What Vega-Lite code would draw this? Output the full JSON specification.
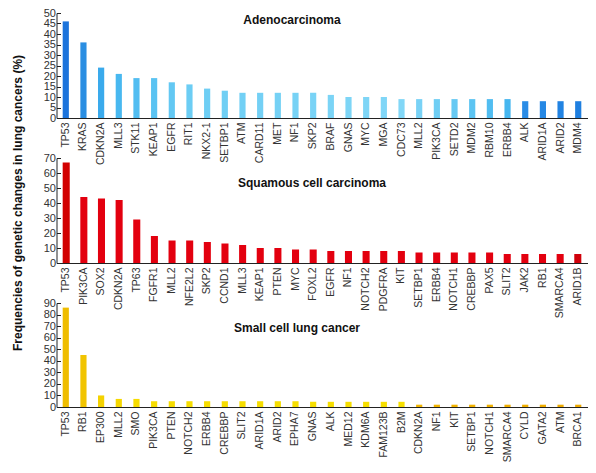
{
  "$schema": "https://vega.github.io/schema/vega-lite/v6.json",
  "padding": {"left": 11.5, "top": 7, "right": 6, "bottom": 6},
  "background": "white",
  "datasets": {
    "genes": [
      {"type": "Adenocarcinoma", "rank": 1, "gene": "TP53", "value": 46},
      {"type": "Adenocarcinoma", "rank": 2, "gene": "KRAS", "value": 36},
      {"type": "Adenocarcinoma", "rank": 3, "gene": "CDKN2A", "value": 24},
      {"type": "Adenocarcinoma", "rank": 4, "gene": "MLL3", "value": 21},
      {"type": "Adenocarcinoma", "rank": 5, "gene": "STK11", "value": 19},
      {"type": "Adenocarcinoma", "rank": 6, "gene": "KEAP1", "value": 19},
      {"type": "Adenocarcinoma", "rank": 7, "gene": "EGFR", "value": 17},
      {"type": "Adenocarcinoma", "rank": 8, "gene": "RIT1", "value": 16},
      {"type": "Adenocarcinoma", "rank": 9, "gene": "NKX2-1", "value": 14},
      {"type": "Adenocarcinoma", "rank": 10, "gene": "SETBP1", "value": 13},
      {"type": "Adenocarcinoma", "rank": 11, "gene": "ATM", "value": 12},
      {"type": "Adenocarcinoma", "rank": 12, "gene": "CARD11", "value": 12},
      {"type": "Adenocarcinoma", "rank": 13, "gene": "MET", "value": 12},
      {"type": "Adenocarcinoma", "rank": 14, "gene": "NF1", "value": 12},
      {"type": "Adenocarcinoma", "rank": 15, "gene": "SKP2", "value": 12},
      {"type": "Adenocarcinoma", "rank": 16, "gene": "BRAF", "value": 11},
      {"type": "Adenocarcinoma", "rank": 17, "gene": "GNAS", "value": 10},
      {"type": "Adenocarcinoma", "rank": 18, "gene": "MYC", "value": 10},
      {"type": "Adenocarcinoma", "rank": 19, "gene": "MGA", "value": 10},
      {"type": "Adenocarcinoma", "rank": 20, "gene": "CDC73", "value": 9},
      {"type": "Adenocarcinoma", "rank": 21, "gene": "MLL2", "value": 9},
      {"type": "Adenocarcinoma", "rank": 22, "gene": "PIK3CA", "value": 9},
      {"type": "Adenocarcinoma", "rank": 23, "gene": "SETD2", "value": 9},
      {"type": "Adenocarcinoma", "rank": 24, "gene": "MDM2", "value": 9},
      {"type": "Adenocarcinoma", "rank": 25, "gene": "RBM10", "value": 9},
      {"type": "Adenocarcinoma", "rank": 26, "gene": "ERBB4", "value": 9},
      {"type": "Adenocarcinoma", "rank": 27, "gene": "ALK", "value": 8},
      {"type": "Adenocarcinoma", "rank": 28, "gene": "ARID1A", "value": 8},
      {"type": "Adenocarcinoma", "rank": 29, "gene": "ARID2", "value": 8},
      {"type": "Adenocarcinoma", "rank": 30, "gene": "MDM4", "value": 8},
      {"type": "Squamous", "rank": 1, "gene": "TP53", "value": 67},
      {"type": "Squamous", "rank": 2, "gene": "PIK3CA", "value": 44},
      {"type": "Squamous", "rank": 3, "gene": "SOX2", "value": 43},
      {"type": "Squamous", "rank": 4, "gene": "CDKN2A", "value": 42},
      {"type": "Squamous", "rank": 5, "gene": "TP63", "value": 29},
      {"type": "Squamous", "rank": 6, "gene": "FGFR1", "value": 18},
      {"type": "Squamous", "rank": 7, "gene": "MLL2", "value": 15},
      {"type": "Squamous", "rank": 8, "gene": "NFE2L2", "value": 15},
      {"type": "Squamous", "rank": 9, "gene": "SKP2", "value": 14},
      {"type": "Squamous", "rank": 10, "gene": "CCND1", "value": 13},
      {"type": "Squamous", "rank": 11, "gene": "MLL3", "value": 12},
      {"type": "Squamous", "rank": 12, "gene": "KEAP1", "value": 10},
      {"type": "Squamous", "rank": 13, "gene": "PTEN", "value": 10},
      {"type": "Squamous", "rank": 14, "gene": "MYC", "value": 9},
      {"type": "Squamous", "rank": 15, "gene": "FOXL2", "value": 9},
      {"type": "Squamous", "rank": 16, "gene": "EGFR", "value": 8},
      {"type": "Squamous", "rank": 17, "gene": "NF1", "value": 8},
      {"type": "Squamous", "rank": 18, "gene": "NOTCH2", "value": 8},
      {"type": "Squamous", "rank": 19, "gene": "PDGFRA", "value": 8},
      {"type": "Squamous", "rank": 20, "gene": "KIT", "value": 8},
      {"type": "Squamous", "rank": 21, "gene": "SETBP1", "value": 7},
      {"type": "Squamous", "rank": 22, "gene": "ERBB4", "value": 7},
      {"type": "Squamous", "rank": 23, "gene": "NOTCH1", "value": 7},
      {"type": "Squamous", "rank": 24, "gene": "CREBBP", "value": 7},
      {"type": "Squamous", "rank": 25, "gene": "PAX5", "value": 7},
      {"type": "Squamous", "rank": 26, "gene": "SLIT2", "value": 6},
      {"type": "Squamous", "rank": 27, "gene": "JAK2", "value": 6},
      {"type": "Squamous", "rank": 28, "gene": "RB1", "value": 6},
      {"type": "Squamous", "rank": 29, "gene": "SMARCA4", "value": 6},
      {"type": "Squamous", "rank": 30, "gene": "ARID1B", "value": 6},
      {"type": "Small cell", "rank": 1, "gene": "TP53", "value": 86},
      {"type": "Small cell", "rank": 2, "gene": "RB1", "value": 45},
      {"type": "Small cell", "rank": 3, "gene": "EP300", "value": 10},
      {"type": "Small cell", "rank": 4, "gene": "MLL2", "value": 7},
      {"type": "Small cell", "rank": 5, "gene": "SMO", "value": 7},
      {"type": "Small cell", "rank": 6, "gene": "PIK3CA", "value": 5},
      {"type": "Small cell", "rank": 7, "gene": "PTEN", "value": 5},
      {"type": "Small cell", "rank": 8, "gene": "NOTCH2", "value": 5},
      {"type": "Small cell", "rank": 9, "gene": "ERBB4", "value": 5},
      {"type": "Small cell", "rank": 10, "gene": "CREBBP", "value": 5},
      {"type": "Small cell", "rank": 11, "gene": "SLIT2", "value": 5},
      {"type": "Small cell", "rank": 12, "gene": "ARID1A", "value": 5},
      {"type": "Small cell", "rank": 13, "gene": "ARID2", "value": 5},
      {"type": "Small cell", "rank": 14, "gene": "EPHA7", "value": 5},
      {"type": "Small cell", "rank": 15, "gene": "GNAS", "value": 4.5},
      {"type": "Small cell", "rank": 16, "gene": "ALK", "value": 4.5},
      {"type": "Small cell", "rank": 17, "gene": "MED12", "value": 4.5},
      {"type": "Small cell", "rank": 18, "gene": "KDM6A", "value": 4.5},
      {"type": "Small cell", "rank": 19, "gene": "FAM123B", "value": 4.5},
      {"type": "Small cell", "rank": 20, "gene": "B2M", "value": 4.5},
      {"type": "Small cell", "rank": 21, "gene": "CDKN2A", "value": 2},
      {"type": "Small cell", "rank": 22, "gene": "NF1", "value": 2},
      {"type": "Small cell", "rank": 23, "gene": "KIT", "value": 2},
      {"type": "Small cell", "rank": 24, "gene": "SETBP1", "value": 2},
      {"type": "Small cell", "rank": 25, "gene": "NOTCH1", "value": 2},
      {"type": "Small cell", "rank": 26, "gene": "SMARCA4", "value": 2},
      {"type": "Small cell", "rank": 27, "gene": "CYLD", "value": 2},
      {"type": "Small cell", "rank": 28, "gene": "GATA2", "value": 2},
      {"type": "Small cell", "rank": 29, "gene": "ATM", "value": 2},
      {"type": "Small cell", "rank": 30, "gene": "BRCA1", "value": 2}
    ]
  },
  "data": {"name": "genes"},
  "bounds": "flush",
  "spacing": 40,
  "resolve": {"scale": {"color": "independent", "x": "independent", "y": "independent"}},
  "vconcat": [
    {
      "width": 531,
      "height": 105,
      "title": {"text": "Adenocarcinoma", "dx": -30, "offset": -24.5, "baseline": "middle"},
      "transform": [{"filter": "datum.type == 'Adenocarcinoma'"}],
      "mark": {"type": "bar"},
      "encoding": {
        "x": {
          "field": "gene", "type": "nominal", "title": null,
          "sort": {"field": "rank", "op": "min"},
          "scale": {"paddingInner": 0.65, "paddingOuter": 0.35}
        },
        "y": {
          "field": "value", "type": "quantitative",
          "title": "Frequencies of genetic changes in lung cancers (%)",
          "scale": {"domain": [0, 50], "nice": false},
          "axis": {
            "values": [0, 5, 10, 15, 20, 25, 30, 35, 40, 45, 50],
            "titleX": -39, "titleY": 189.5, "titleBaseline": "middle", "titleAlign": "center",
            "titleFontSize": 12, "titleFontWeight": "bold", "titleColor": "#111"
          }
        },
        "color": {
          "field": "rank", "type": "quantitative", "legend": null,
          "scale": {
            "domain": [1, 2, 3, 4, 8, 20, 24, 26, 27, 30],
            "range": ["#1c74dc", "#2a8ee2", "#3aaaec", "#48b8f0", "#6ccdf4", "#82d7f7", "#5cc4f2", "#46b6ef", "#2a8ce6", "#1f7fe0"]
          }
        }
      }
    },
    {
      "width": 531,
      "height": 105,
      "title": {"text": "Squamous cell carcinoma", "dx": -10, "offset": -42.5, "baseline": "middle"},
      "transform": [{"filter": "datum.type == 'Squamous'"}],
      "mark": {"type": "bar"},
      "encoding": {
        "x": {
          "field": "gene", "type": "nominal", "title": null,
          "sort": {"field": "rank", "op": "min"},
          "scale": {"paddingInner": 0.6, "paddingOuter": 0.35}
        },
        "y": {
          "field": "value", "type": "quantitative", "title": null,
          "scale": {"domain": [0, 70], "nice": false},
          "axis": {"values": [0, 10, 20, 30, 40, 50, 60, 70]}
        },
        "color": {
          "field": "rank", "type": "quantitative", "legend": null,
          "scale": {
            "domain": [1, 2, 29, 30],
            "range": ["#d20000", "#e3000f", "#e3000f", "#d0000a"]
          }
        }
      }
    },
    {
      "width": 531,
      "height": 104,
      "title": {"text": "Small cell lung cancer", "dx": -25, "offset": -42.5, "baseline": "middle"},
      "transform": [{"filter": "datum.type == 'Small cell'"}],
      "mark": {"type": "bar"},
      "encoding": {
        "x": {
          "field": "gene", "type": "nominal", "title": null,
          "sort": {"field": "rank", "op": "min"},
          "scale": {"paddingInner": 0.65, "paddingOuter": 0.35}
        },
        "y": {
          "field": "value", "type": "quantitative", "title": null,
          "scale": {"domain": [0, 90], "nice": false},
          "axis": {"values": [0, 10, 20, 30, 40, 50, 60, 70, 80, 90]}
        },
        "color": {
          "field": "rank", "type": "quantitative", "legend": null,
          "scale": {
            "domain": [1, 2, 3, 5, 20, 21, 30],
            "range": ["#efbd00", "#f1c400", "#f4d200", "#f6dc00", "#f6df00", "#f2b600", "#eeaa00"]
          }
        }
      }
    }
  ],
  "config": {
    "view": {"stroke": null},
    "font": "Liberation Sans",
    "title": {"fontSize": 12, "fontWeight": "bold", "color": "#111", "anchor": "middle", "font": "Liberation Sans"},
    "axis": {
      "labelFont": "Liberation Sans",
      "titleFont": "Liberation Sans",
      "labelColor": "#333",
      "domainColor": "#222",
      "tickColor": "#222",
      "grid": false,
      "labelOverlap": false,
      "labelFlush": false
    },
    "axisX": {
      "labelAngle": -90,
      "labelFontSize": 10.5,
      "ticks": false,
      "labelPadding": 4
    },
    "axisY": {
      "labelFontSize": 11,
      "tickSize": -4,
      "labelPadding": 5
    }
  }
}
